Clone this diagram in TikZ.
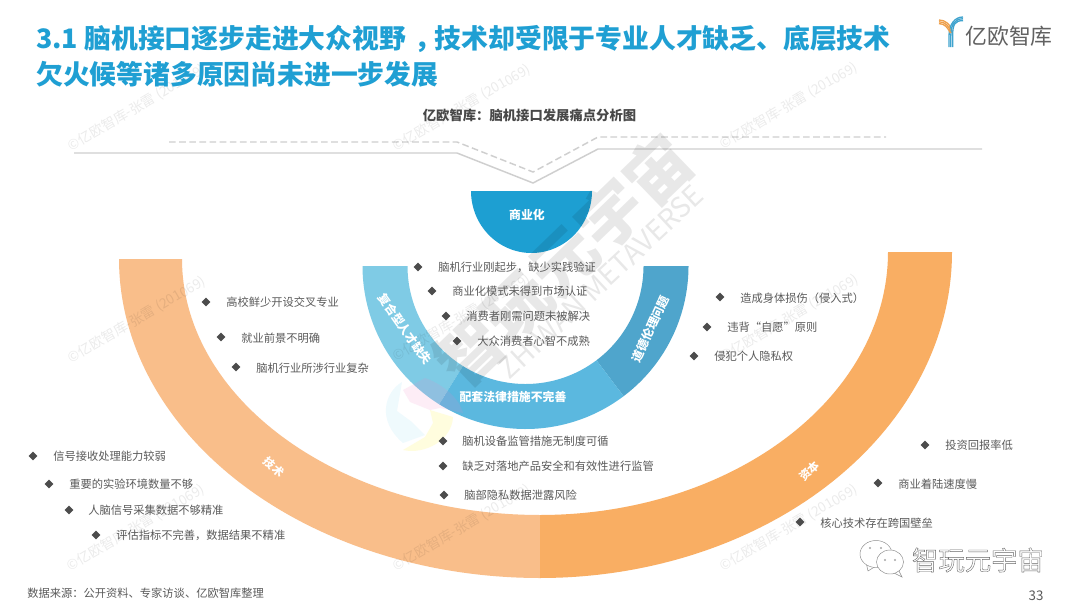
\documentclass[tikz,border=0pt]{standalone}
\usepackage{fontspec}
\setmainfont{Noto Sans CJK SC}
\usetikzlibrary{shapes.geometric}
\definecolor{titleblue}{HTML}{1F9FD3}
\definecolor{txtgrey}{HTML}{5A5A5A}
\definecolor{bowlblue}{HTML}{1D9FD2}
\definecolor{ringl}{HTML}{7FCBE5}
\definecolor{ringm}{HTML}{5BB8DF}
\definecolor{ringr}{HTML}{4FA5CC}
\definecolor{bandl}{HTML}{F9BE8A}
\definecolor{bandr}{HTML}{F9AE63}
\definecolor{lineg}{HTML}{CFCFCF}
\definecolor{logoo}{HTML}{EE9F4A}
\definecolor{logob}{HTML}{3FA3CE}
\tikzset{
  bullet/.style={diamond,fill=txtgrey!85!black,inner sep=0pt,minimum width=6.8pt,minimum height=6.8pt},
  item/.style={anchor=west,inner sep=0pt,text=txtgrey,font=\fontsize{8.45pt}{10pt}\selectfont},
  ringlabel/.style={inner sep=0pt,text=white,font=\fontsize{8.9pt}{10pt}\selectfont\bfseries},
  bandlabel/.style={inner sep=0pt,text=white,font=\fontsize{8.4pt}{10pt}\selectfont\bfseries},
  wmark/.style={inner sep=0pt,rotate=30.5,text=black,text opacity=0.08,font=\fontsize{10.3pt}{12pt}\selectfont},
  bigmark/.style={inner sep=0pt,rotate=44,text=black,text opacity=0.09,font=\fontsize{49pt}{52pt}\selectfont\bfseries},
  bigmarksub/.style={inner sep=0pt,rotate=43,text=black,text opacity=0.09,font=\fontsize{21pt}{23pt}\selectfont},
  titletext/.style={anchor=west,inner sep=0pt,text=titleblue,font=\fontsize{20.1pt}{22pt}\selectfont\bfseries},
  trackline/.style={lineg,line width=1.1pt},
  trackdash/.style={lineg,line width=1.1pt,dash pattern=on 5pt off 2.6pt},
  bubble/.style={draw=black!45,line width=0.35pt,fill=white},
}
% band between two ellipses, angles measured clockwise on screen from +x
\newcommand{\bandshape}[9]{%
  \fill[#1] plot[domain=#8:#9,samples=90] ({#2+#4*cos(\x)},{#3+#5*sin(\x)})
    -- plot[domain=#9:#8,samples=90] ({#2+#6*cos(\x)},{#3+#7*sin(\x)}) -- cycle;}
\newcommand{\listitem}[6]{%
  \node[bullet] (b#1) at (#2,#3) {};
  \node[item] (t#1) at (#4,#5) {#6};}
\begin{document}
\begin{tikzpicture}[x=0.75pt,y=-0.75pt]
\useasboundingbox (0,0) rectangle (1080,607);
\fill[white] (0,0) rectangle (1080,607);
% outer bands
\bandshape{bandl}{540}{259}{421}{319}{358}{256}{90}{180}
\bandshape{bandr}{540}{252}{412}{326}{348}{263}{0}{90}
% inner ring
\bandshape{ringl}{525.5}{266}{163}{163}{118}{118}{122}{180}
\bandshape{ringr}{525.5}{266}{163}{163}{118}{118}{0}{53}
\bandshape{ringm}{525.5}{266}{163}{163}{118}{118}{53}{122}
% bowl
\fill[bowlblue] plot[domain=0:180,samples=70] ({531.5+60.5*cos(\x)},{191+62*sin(\x)}) -- cycle;
% track lines
\coordinate (sa) at (74,153); \coordinate (sb) at (457,153); \coordinate (sc) at (533,183);
\coordinate (sd) at (598,149); \coordinate (se) at (982,149);
\coordinate (da) at (169,142); \coordinate (db) at (457,142); \coordinate (dc) at (533,172);
\coordinate (dd) at (598,137); \coordinate (de) at (886,137);
\draw[trackline] (sa)--(sb)--(sc)--(sd)--(se);
\draw[trackdash] (da)--(db)--(dc)--(dd)--(de);
% pinwheel watermark
\fill[cyan!60,opacity=.10] (402,382) .. controls (385,392) and (376,420) .. (403,443) -- (425,435) -- (412,422) -- (397,411) -- cycle;
\fill[magenta!50,opacity=.14] (403,390) -- (425,378) .. controls (445,385) and (460,400) .. (463,413) -- (440,408) -- (430,410) -- (410,402) -- cycle;
\fill[yellow!70,opacity=.18] (430,410) -- (453,417) .. controls (452,440) and (425,455) .. (403,450) -- (425,437) -- (433,423) -- cycle;
% small watermarks
\foreach \wx/\wy/\wn in {137/108/a,462/108/b,789/106/c,137/320/d,462/318/e,790/318/f,136/528/g,462/528/h,789/528/i}{
  \node[wmark] (w\wn) at (\wx,\wy) {©亿欧智库-张雷 (201069)};
}
% big watermark
\node[bigmark] (bigm) at (563,260) {智玩元宇宙};
\node[bigmarksub] (bigs) at (601,282) {ZHIWAN METAVERSE};
% title
\node[titletext] (title1) at (36,39) {3.1 脑机接口逐步走进大众视野\hspace{6.7pt}，\hspace{-5.2pt}技术却受限于专业人才缺乏、底层技术};
\node[titletext] (title2) at (36,74) {欠火候等诸多原因尚未进一步发展};
\node[inner sep=0pt,text=txtgrey!80!black,font=\fontsize{10pt}{12pt}\selectfont\bfseries] (sub) at (529.5,115) {亿欧智库：脑机接口发展痛点分析图};
% logo
\begin{scope}[line width=1pt]
\foreach \o in {0,1.8,3.6}{
  \draw[logoo] (939,20+\o) .. controls (945,20+\o) and (951-\o,24+\o) .. (952-\o*.4,33);
  \draw[logob] (963,17+\o) .. controls (955,17+\o) and (949+\o,24) .. (949+\o,36) -- (949+\o,47);
}
\end{scope}
\node[anchor=west,inner sep=0pt,text=black!62,font=\fontsize{16.4pt}{18pt}\selectfont] (logotxt) at (965,36) {亿欧智库};
% labels on shapes
\node[ringlabel] (l0) at (527,215) {商业化};
\node[ringlabel,rotate=-55] (l1) at (405,329) {复合型人才缺失};
\node[ringlabel,rotate=65] (l2) at (650,329) {道德伦理问题};
\node[ringlabel] (l3) at (513,397) {配套法律措施不完善};
\node[bandlabel,rotate=-42] (l4) at (274,467) {技术};
\node[bandlabel,rotate=45] (l5) at (809,471) {资本};
% lists
\listitem{a1}{33}{456}{53}{456}{信号接收处理能力较弱}
\listitem{a2}{49}{484}{69}{484}{重要的实验环境数量不够}
\listitem{a3}{69}{510}{88}{510}{人脑信号采集数据不够精准}
\listitem{a4}{96}{535}{116}{535}{评估指标不完善，数据结果不精准}
\listitem{b1}{206}{302}{226}{302}{高校鲜少开设交叉专业}
\listitem{b2}{221}{337}{241}{338}{就业前景不明确}
\listitem{b3}{236}{367}{256}{368}{脑机行业所涉行业复杂}
\listitem{c1}{418}{267}{438}{267}{脑机行业刚起步，缺少实践验证}
\listitem{c2}{432}{291}{452}{291}{商业化模式未得到市场认证}
\listitem{c3}{446}{316}{466}{316}{消费者刚需问题未被解决}
\listitem{c4}{457}{341}{477}{341}{大众消费者心智不成熟}
\listitem{d1}{443}{441}{462}{441}{脑机设备监管措施无制度可循}
\listitem{d2}{443}{466}{462}{466}{缺乏对落地产品安全和有效性进行监管}
\listitem{d3}{444}{495}{464}{495}{脑部隐私数据泄露风险}
\listitem{e1}{720}{297}{740}{298}{造成身体损伤（侵入式）}
\listitem{e2}{707}{327}{727}{327}{违背“自愿”原则}
\listitem{e3}{694}{356}{714}{356}{侵犯个人隐私权}
\listitem{f1}{925}{445}{945}{445}{投资回报率低}
\listitem{f2}{878}{483}{898}{484}{商业着陆速度慢}
\listitem{f3}{800}{522}{820}{523}{核心技术存在跨国壁垒}
% source + page
\node[item] (src) at (27,593) {数据来源：公开资料、专家访谈、亿欧智库整理};
\node[inner sep=0pt,text=txtgrey,font=\fontsize{10pt}{12pt}\selectfont] (page) at (1036,596) {33};
% wechat mark
\fill[bubble] (866,562) -- (868,571) -- (876,566) -- cycle;
\draw[bubble] (876,554) ellipse [x radius=16,y radius=13.5];
\fill[bubble] (898,569) -- (902,577) -- (892,572) -- cycle;
\draw[bubble] (890,562) ellipse [x radius=13.5,y radius=12];
\fill[black!35] (870,548) circle [radius=1.2] (881,548) circle [radius=1.2] (885,560) circle [radius=1.1] (895,560) circle [radius=1.1];
\node[inner sep=0pt,text=white,font=\fontsize{19.8pt}{22pt}\selectfont] (wx) at (978,560) {\special{pdf:code q 1 Tr 0.3 w 0.4 G}智玩元宇宙\special{pdf:code Q}};
\end{tikzpicture}
\end{document}
